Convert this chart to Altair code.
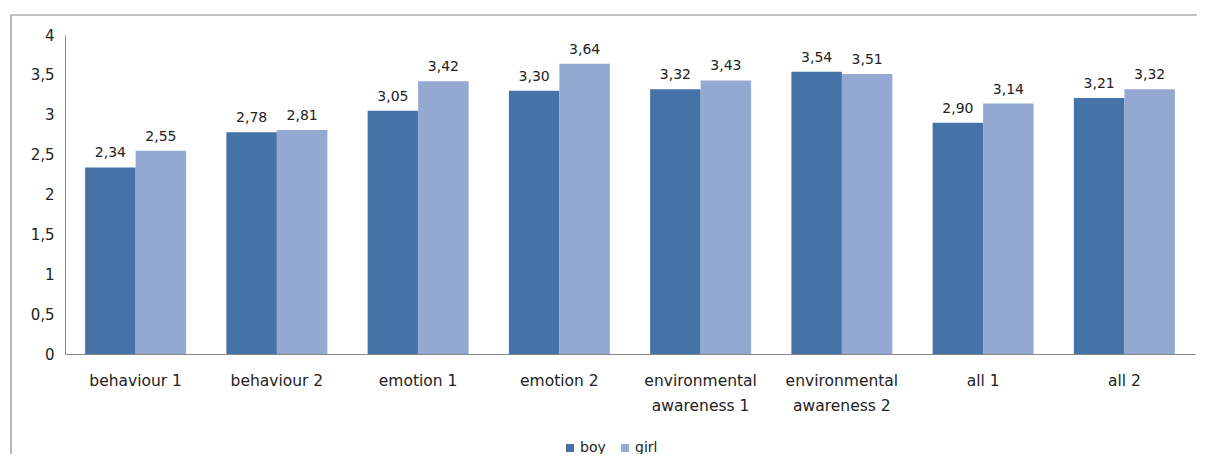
import altair as alt
import pandas as pd

categories = ["behaviour 1", "behaviour  2", "emotion 1", "emotion 2",
              "environmental awareness 1", "environmental awareness 2", "all 1", "all 2"]
boy = [2.34, 2.78, 3.05, 3.30, 3.32, 3.54, 2.90, 3.21]
girl = [2.55, 2.81, 3.42, 3.64, 3.43, 3.51, 3.14, 3.32]
series = ["boy", "girl"]
colors = ["#4572A7", "#93A9D1"]
y_ticks = [0, 0.5, 1, 1.5, 2, 2.5, 3, 3.5, 4]

rows = []
for c, b, g in zip(categories, boy, girl):
    rows.append({"category": c, "gender": "boy", "value": b})
    rows.append({"category": c, "gender": "girl", "value": g})
df = pd.DataFrame(rows)

W, H = 1130, 319
FONT = "DejaVu Sans"
FS = 14

x_enc = alt.X("category:N", sort=categories, title=None,
              scale=alt.Scale(paddingInner=0.285, paddingOuter=0.1425),
              axis=alt.Axis(labelAngle=0, ticks=False, domainColor="#888888",
                            labelPadding=19, labelFontSize=15.5, labelColor="#222222",
                            labelFont=FONT, labelLineHeight=25, labelLimit=200,
                            labelOverlap=False,
                            labelExpr="indexof(datum.label,'environmental')==0 ? ['environmental', substring(datum.label, 14)] : datum.label"))
y_enc = alt.Y("value:Q", title=None,
              scale=alt.Scale(domain=[0, 4], nice=False),
              axis=alt.Axis(values=y_ticks, grid=False, ticks=False, domainColor="#888888",
                            labelPadding=11, labelFontSize=15, labelColor="#222222",
                            labelFont=FONT, labelOverlap=False,
                            labelExpr="replace(format(datum.value, '~g'), '.', ',')"))
color_enc = alt.Color("gender:N", scale=alt.Scale(domain=series, range=colors),
                      legend=alt.Legend(title=None, orient="none", legendX=498, legendY=406,
                                        direction="horizontal", symbolType="square",
                                        symbolSize=64, symbolStrokeWidth=0,
                                        labelFontSize=FS, labelFont=FONT, labelColor="#222222",
                                        columnPadding=12, labelOffset=3))
xoff = alt.XOffset("gender:N", sort=series)

base = alt.Chart(df)
bars = base.mark_bar().encode(x=x_enc, y=y_enc, color=color_enc, xOffset=xoff)
labels = base.mark_text(baseline="bottom", dy=-7, fontSize=FS, font=FONT, color="#222222").encode(
    x=x_enc,
    y=y_enc,
    xOffset=xoff,
    text=alt.Text("lbl:N"),
).transform_calculate(lbl="replace(format(datum.value, '.2f'), '.', ',')")

border = alt.Chart(pd.DataFrame({"k": [0]})).mark_rect(
    filled=False, stroke="#8a8a8a", strokeWidth=1.2
).encode(x=alt.value(-54), x2=alt.value(1150), y=alt.value(-20), y2=alt.value(450))

chart = alt.layer(border, bars, labels).properties(
    width=W, height=H,
    background="white",
    autosize=alt.AutoSizeParams(type="none"),
    padding={"left": 57, "top": 27, "right": 2, "bottom": 100},
).configure_view(strokeWidth=0, stroke=None)

chart.save("out.html", embed_options={"renderer": "svg", "actions": False})
